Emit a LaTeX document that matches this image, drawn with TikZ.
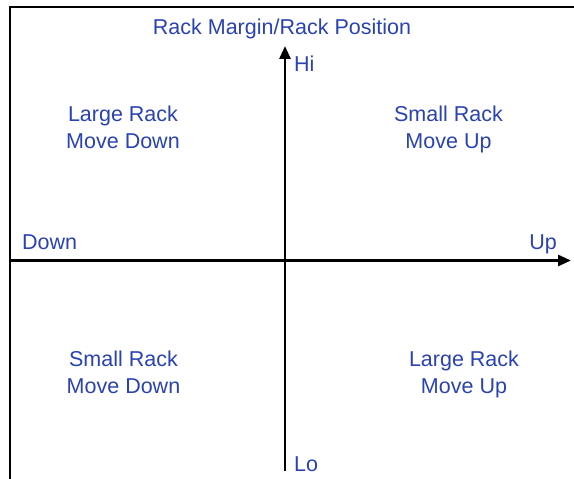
\documentclass[tikz,border=0pt]{standalone}
\usepackage{fontspec}
\setmainfont{Liberation Sans}
\usepackage{xcolor}
\usetikzlibrary{arrows.meta, positioning, calc}
\definecolor{quadblue}{RGB}{42,66,178}

\begin{document}
\begin{tikzpicture}[x=1pt, y=1pt,
  quadlabel/.style={text=quadblue, font=\fontsize{21.5}{27}\selectfont, inner sep=0pt, align=center},
  axisline/.style={line width=2.8pt, -{Triangle[length=13pt, width=11pt]}}]
\useasboundingbox (0,0) rectangle (574,479);

% outer frame (only left and top sides show)
\draw[line width=1.7pt] (10,0) -- (10,472) -- (574,472);

% axis ends
\coordinate (lo) at (285,8);
\coordinate (hi) at (285,433);
\coordinate (left) at (11,218.5);
\coordinate (right) at (571,218.5);

% the two axes
\draw[axisline] (lo) -- (hi);
\draw[axisline] (left) -- (right);

% title and axis labels
\node[quadlabel, anchor=base] (title) at (282,444) {Rack Margin/Rack Position};
\node[quadlabel, anchor=base west] (hilabel) at (294,407) {Hi};
\node[quadlabel, anchor=base west] (lolabel) at (294,7) {Lo};
\node[quadlabel, anchor=base west] (downlabel) at (22,229) {Down};
\node[quadlabel, anchor=base east] (uplabel) at (557,229) {Up};

% quadrant texts (base = last line)
\node[quadlabel, anchor=base] (topleft) at (123,330) {Large Rack\\Move Down};
\node[quadlabel, anchor=base] (topright) at (448.5,330) {Small Rack\\Move Up};
\node[quadlabel, anchor=base] (botleft) at (123.5,85) {Small Rack\\Move Down};
\node[quadlabel, anchor=base] (botright) at (464,85) {Large Rack\\Move Up};
\end{tikzpicture}
\end{document}
